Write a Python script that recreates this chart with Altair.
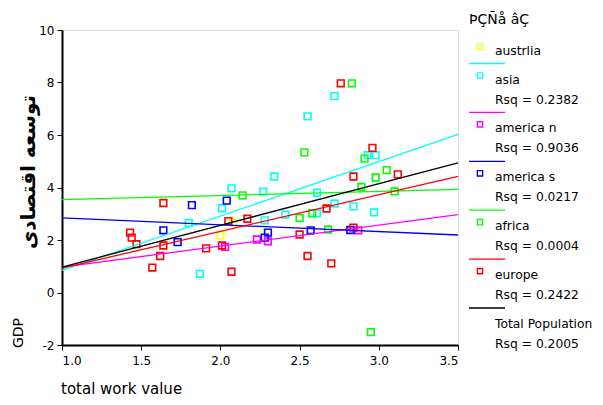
import altair as alt
import pandas as pd

# ---------------- data ----------------
groups = ["austrlia", "asia", "america n", "america s", "africa", "europe", "Total Population"]
group_colors = ["#ffff00", "#00ffff", "#ff00ff", "#0000ff", "#00ff00", "#ff0000", "#000000"]

austrlia_x = [2.00, 2.08]
austrlia_y = [2.18, 2.66]

asia_x = [1.80, 1.87, 2.01, 2.07, 2.27, 2.28, 2.34, 2.41, 2.55, 2.61, 2.61, 2.72, 2.72, 2.84, 2.93, 2.98, 2.97]
asia_y = [2.65, 0.71, 3.21, 3.97, 3.84, 2.75, 4.42, 2.97, 6.71, 3.80, 3.02, 3.39, 7.48, 3.28, 5.23, 5.23, 3.05]

americaN_x = [2.03, 2.23, 2.30, 2.87]
americaN_y = [1.74, 2.02, 1.95, 2.37]

americaS_x = [1.64, 1.73, 1.82, 2.04, 2.28, 2.30, 2.57, 2.82]
americaS_y = [2.37, 1.92, 3.33, 3.50, 2.09, 2.28, 2.37, 2.38]

africa_x = [2.14, 2.50, 2.53, 2.58, 2.68, 2.83, 2.89, 2.91, 2.95, 2.98, 3.05, 3.10]
africa_y = [3.70, 2.84, 5.34, 3.02, 2.40, 7.97, 4.02, 5.10, -1.51, 4.38, 4.66, 3.85]

europe_x = [1.43, 1.44, 1.47, 1.57, 1.62, 1.64, 1.64, 1.91, 2.01, 2.05, 2.07, 2.17,
            2.50, 2.55, 2.67, 2.70, 2.84, 2.84, 2.96, 2.76, 3.12]
europe_y = [2.28, 2.09, 1.84, 0.95, 1.39, 1.79, 3.41, 1.68, 1.79, 2.72, 0.79, 2.81,
            2.21, 1.39, 3.20, 1.11, 2.47, 4.42, 5.51, 7.97, 4.50]

# fit lines: value at x = 1.0 and at x = 3.5
fit_names = ["asia", "america n", "america s", "africa", "europe", "Total Population"]
fit_x = [1.0, 3.5]
fit_start = [0.84, 0.97, 2.84, 3.54, 0.93, 0.97]
fit_end = [6.02, 2.97, 2.19, 3.93, 4.42, 4.94]
fit_rsq = ["0.2382", "0.9036", "0.0217", "0.0004", "0.2422", "0.2005"]

x_ticks = [1.0, 1.5, 2.0, 2.5, 3.0, 3.5]
y_ticks = [-2, 0, 2, 4, 6, 8, 10]

legend_title = "ÞÇÑå âÇ"
x_title = "total work value"
y_title_fa = "توسعه اقتصادی"
y_title_en = "GDP"

# ---------------- tables ----------------
series = {
    "austrlia": (austrlia_x, austrlia_y),
    "asia": (asia_x, asia_y),
    "america n": (americaN_x, americaN_y),
    "america s": (americaS_x, americaS_y),
    "africa": (africa_x, africa_y),
    "europe": (europe_x, europe_y),
}
pts = pd.DataFrame(
    [{"group": g, "x": xv, "y": yv} for g, (xs, ys) in series.items() for xv, yv in zip(xs, ys)]
)
fits = pd.DataFrame(
    [{"group": n, "x": fit_x[0], "y": s} for n, s in zip(fit_names, fit_start)]
    + [{"group": n, "x": fit_x[1], "y": e} for n, e in zip(fit_names, fit_end)]
)
rsq_map = dict(zip(fit_names, fit_rsq))
leg = pd.DataFrame(
    [{"idx": i, "label": g, "rsq": ("Rsq = " + rsq_map[g]) if g in rsq_map else "",
      "marker": g != "Total Population", "line": g in rsq_map}
     for i, g in enumerate(groups)]
)

FONT = "DejaVu Sans"
color_scale = alt.Scale(domain=groups, range=group_colors)
xs = alt.Scale(domain=[1.0, 3.5], nice=False, zero=False)
ys = alt.Scale(domain=[-2, 10], nice=False, zero=False)

x_axis = alt.Axis(values=x_ticks, format=".1f", title=None, grid=False, labelFont=FONT,
                  labelFontSize=12, labelColor="black", domainColor="black", domainWidth=2,
                  tickColor="black", tickSize=5, labelPadding=5)
y_axis = alt.Axis(values=y_ticks, title=None, grid=False, labelFont=FONT, labelFontSize=12,
                  labelColor="black", domainColor="black", domainWidth=2, tickColor="black",
                  tickSize=5, labelPadding=3, labelExpr="toString(datum.value)")

points = alt.Chart(pts).mark_point(shape="square", filled=False, size=45, strokeWidth=1.6,
                                   opacity=1).encode(
    x=alt.X("x:Q", scale=xs, axis=x_axis),
    y=alt.Y("y:Q", scale=ys, axis=y_axis),
    color=alt.Color("group:N", scale=color_scale, legend=None),
)
lines = alt.Chart(fits).mark_line(strokeWidth=1.3).encode(
    x=alt.X("x:Q", scale=xs),
    y=alt.Y("y:Q", scale=ys),
    color=alt.Color("group:N", scale=color_scale, legend=None),
    detail="group:N",
)

# legend, positioned in pixels relative to the plot area
leg_base = alt.Chart(leg).transform_calculate(
    ly="datum.idx == 0 ? 21 : 49.5 + (datum.idx - 1) * 48.9"
).transform_calculate(
    my="datum.ly - 4", liney="datum.ly - 16", ry="datum.ly + 20"
)
leg_sq = leg_base.transform_filter("datum.marker").mark_point(
    shape="square", filled=False, size=28, strokeWidth=1.4, opacity=1
).encode(
    x=alt.value(418), y=alt.Y("my:Q", scale=None, axis=None),
    color=alt.Color("label:N", scale=color_scale, legend=None),
)
leg_txt = leg_base.mark_text(align="left", baseline="middle", font=FONT, fontSize=12.3,
                             color="black").encode(
    x=alt.value(433), y=alt.Y("ly:Q", scale=None, axis=None), text="label:N")
leg_rsq = leg_base.transform_filter("datum.line").mark_text(
    align="left", baseline="middle", font=FONT, fontSize=12.3, color="black").encode(
    x=alt.value(433), y=alt.Y("ry:Q", scale=None, axis=None), text="rsq:N")
leg_line = leg_base.transform_filter("datum.line").mark_rule(strokeWidth=1.3).encode(
    x=alt.value(407), x2=alt.value(443), y=alt.Y("liney:Q", scale=None, axis=None),
    color=alt.Color("label:N", scale=color_scale, legend=None),
)

def label(txt, x, y, **kw):
    return alt.Chart(pd.DataFrame({"t": [txt]})).mark_text(font=FONT, color="black", **kw).encode(
        text="t:N", x=alt.value(x), y=alt.value(y))

t_leg = label(legend_title, 407, -10, align="left", baseline="middle", fontSize=14)
t_x = label(x_title, -1, 359, align="left", baseline="middle", fontSize=15)
t_fa = label(y_title_fa, -33, 142, align="center", baseline="middle", fontSize=20,
             fontWeight="bold", angle=270)
t_en = label(y_title_en, -43, 303, align="center", baseline="middle", fontSize=14, angle=270)

chart = alt.layer(
    points, lines, leg_sq, leg_txt, leg_rsq, leg_line, t_leg, t_x, t_fa, t_en
).properties(
    width=396, height=315,
    autosize=alt.AutoSizeParams(type="none"),
    padding={"left": 54, "top": 22, "right": 137, "bottom": 52},
).configure_view(stroke="black", strokeWidth=1).configure(background="white")

chart.save("out.html", embed_options={"renderer": "svg", "actions": False})
